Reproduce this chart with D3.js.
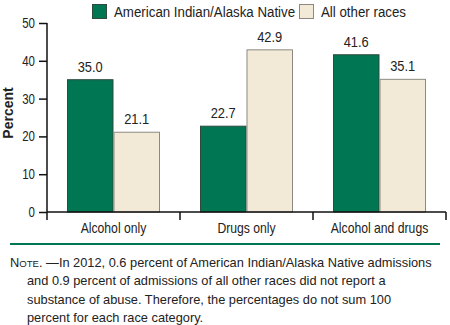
<!DOCTYPE html>
<html>
<head>
<meta charset="utf-8">
<script src="https://cdn.jsdelivr.net/npm/d3@7"></script>
<style>
  body { margin: 0; background: #fff; }
  svg { display: block; font-family: "Liberation Sans", Arial, sans-serif; }
</style>
</head>
<body>
<div id="chart"></div>
<script>
// ---------------------------
// DATA
// ---------------------------
const categories = ["Alcohol only", "Drugs only", "Alcohol and drugs"];
const seriesNames = ["American Indian/Alaska Native", "All other races"];
const aianValues = [35.0, 22.7, 41.6];
const otherValues = [21.1, 42.9, 35.1];
const yTicks = [0, 10, 20, 30, 40, 50];
const noteLines = [
  "In 2012, 0.6 percent of American Indian/Alaska Native admissions",
  "and 0.9 percent of admissions of all other races did not report a",
  "substance of abuse. Therefore, the percentages do not sum 100",
  "percent for each race category."
];

const colors = ["#007652", "#f2ead7"];
const strokes = ["#2f4a3e", "#8c8a80"];

// squeeze text horizontally (source font is a condensed grotesque)
const condense = (sel, factor) => sel.each(function () {
  const w = this.getComputedTextLength();
  d3.select(this)
    .attr("textLength", w * factor)
    .attr("lengthAdjust", "spacingAndGlyphs");
});

// ---------------------------
// LAYOUT
// ---------------------------
const width = 450, height = 325;
const margin = { top: 23, left: 47 };
const plotRight = 446;
const plotBottom = 212;

const svg = d3.select("#chart").append("svg")
  .attr("width", width)
  .attr("height", height);

const x = d3.scaleBand()
  .domain(categories)
  .range([margin.left, plotRight]);

const xSub = d3.scaleBand()
  .domain(seriesNames)
  .range([20, x.bandwidth() - 20]);

const y = d3.scaleLinear()
  .domain([0, 50])
  .range([plotBottom, margin.top]);

// ---------------------------
// BARS
// ---------------------------
const rows = categories.map((c, i) => ({
  cat: c,
  vals: [aianValues[i], otherValues[i]]
}));

const groups = svg.selectAll("g.group")
  .data(rows)
  .join("g")
  .attr("class", "group")
  .attr("transform", d => `translate(${x(d.cat)},0)`);

groups.selectAll("rect")
  .data(d => d.vals.map((v, k) => ({ v, k })))
  .join("rect")
  .attr("x", d => xSub(seriesNames[d.k]) + 0.5)
  .attr("y", d => y(d.v))
  .attr("width", xSub.bandwidth() - 1)
  .attr("height", d => plotBottom - y(d.v))
  .attr("fill", d => colors[d.k])
  .attr("stroke", d => strokes[d.k])
  .attr("stroke-width", 1);

groups.selectAll("text.val")
  .data(d => d.vals.map((v, k) => ({ v, k })))
  .join("text")
  .attr("class", "val")
  .attr("x", d => xSub(seriesNames[d.k]) + xSub.bandwidth() / 2)
  .attr("y", d => y(d.v) - 8)
  .attr("text-anchor", "middle")
  .attr("fill", "#222")
  .style("font-size", "14px")
  .text(d => d3.format(".1f")(d.v))
  .call(condense, 0.92);

// ---------------------------
// AXES
// ---------------------------
const yAxis = svg.append("g")
  .attr("transform", `translate(${margin.left},0)`)
  .call(d3.axisLeft(y).tickValues(yTicks).tickSize(8).tickPadding(4));
yAxis.select(".domain").attr("stroke", "#111").attr("stroke-width", 1.5)
  .attr("d", `M0,${y(50)}V${plotBottom}`);
yAxis.selectAll(".tick line").attr("stroke", "#111").attr("stroke-width", 1.5);
yAxis.selectAll(".tick text")
  .style("font-size", "14px")
  .style("font-family", "inherit")
  .attr("fill", "#222")
  .call(condense, 0.82);

const xAxis = svg.append("g")
  .attr("transform", `translate(0,${plotBottom})`);
xAxis.append("line")
  .attr("x1", margin.left).attr("x2", plotRight)
  .attr("stroke", "#111").attr("stroke-width", 1.5);
xAxis.selectAll("line.tick")
  .data(categories.map(c => x(c)).concat([plotRight]))
  .join("line")
  .attr("class", "tick")
  .attr("x1", d => d).attr("x2", d => d)
  .attr("y1", 0).attr("y2", 8)
  .attr("stroke", "#111").attr("stroke-width", 1.5);
xAxis.selectAll("text")
  .data(categories)
  .join("text")
  .attr("x", d => x(d) + x.bandwidth() / 2)
  .attr("y", 21)
  .attr("text-anchor", "middle")
  .attr("fill", "#222")
  .style("font-size", "14.5px")
  .text(d => d)
  .call(condense, 0.84);

// Y label
svg.append("text")
  .attr("transform", "translate(13,113) rotate(-90)")
  .attr("text-anchor", "middle")
  .attr("fill", "#222")
  .style("font-size", "14px")
  .style("font-weight", "bold")
  .text("Percent");

// ---------------------------
// LEGEND
// ---------------------------
const legendX = [92, 299];
const legend = svg.selectAll("g.legend")
  .data(seriesNames)
  .join("g")
  .attr("class", "legend")
  .attr("transform", (d, i) => `translate(${legendX[i]},4)`);
legend.append("rect")
  .attr("x", 0.5).attr("y", 0.5)
  .attr("width", 14).attr("height", 14)
  .attr("fill", (d, i) => colors[i])
  .attr("stroke", (d, i) => strokes[i]);
legend.append("text")
  .attr("x", 22).attr("y", 13)
  .attr("fill", "#222")
  .style("font-size", "14px")
  .text(d => d)
  .call(condense, 0.95);

// ---------------------------
// DIVIDER + NOTE
// ---------------------------
svg.append("line")
  .attr("x1", 10).attr("x2", 440)
  .attr("y1", 244).attr("y2", 244)
  .attr("stroke", "#007652").attr("stroke-width", 2);

const note = svg.append("g").style("font-size", "12.8px").attr("fill", "#222");
noteLines.forEach((line, i) => {
  const t = note.append("text")
    .attr("x", i === 0 ? 10 : 27)
    .attr("y", 267 + i * 18.3);
  if (i === 0) {
    t.append("tspan").text("N");
    t.append("tspan").style("font-size", "9.6px").text("OTE");
    t.append("tspan").text(". \u2014" + line);
  } else {
    t.text(line);
  }
});
</script>
</body>
</html>
